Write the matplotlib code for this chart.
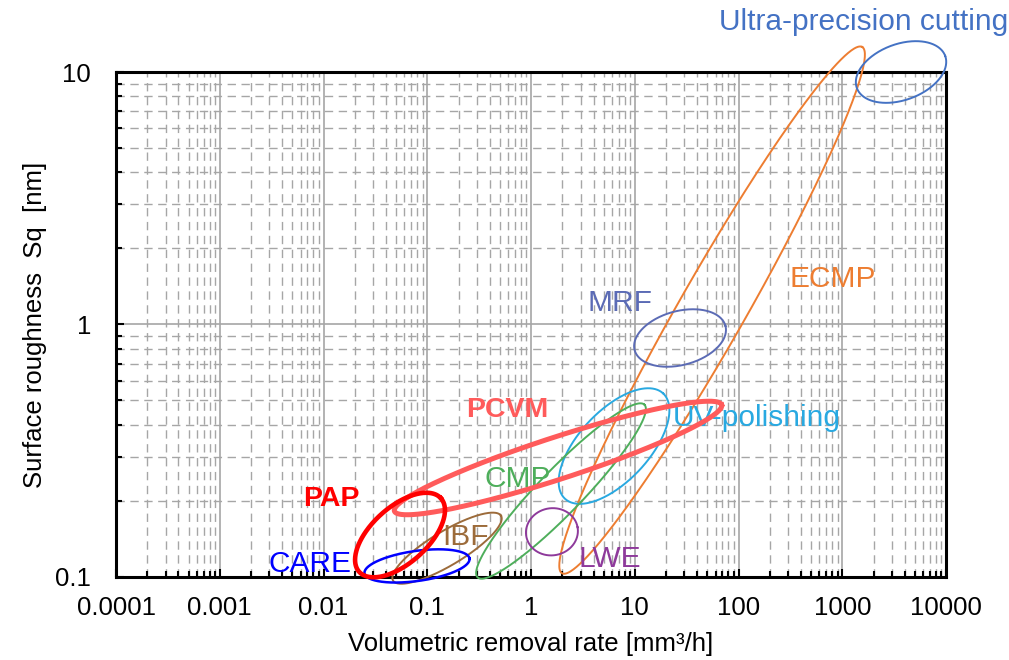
import numpy as np
import matplotlib
matplotlib.use('Agg')
import matplotlib.pyplot as plt

plt.rcParams['font.family'] = ['Liberation Sans', 'DejaVu Sans']

# Process regions: centre (removal rate mm3/h, Sq nm), semi-axes in decades of x, tilt in degrees
processes = ['ECMP', 'Ultra-precision cutting', 'MRF', 'UV-polishing', 'CMP', 'LWE', 'IBF', 'CARE', 'PCVM', 'PAP']
center_x = [55.6, 3683, 27.3, 6.31, 1.945, 1.59, 0.155, 0.0796, 1.82, 0.0546]
center_y = [1.14, 10.0, 0.884, 0.330, 0.219, 0.151, 0.130, 0.1106, 0.296, 0.1466]
semi_a = [2.92, 0.453, 0.453, 0.694, 1.157, 0.251, 0.607, 0.511, 1.658, 0.530]
semi_b = [0.318, 0.27, 0.26, 0.337, 0.212, 0.227, 0.164, 0.145, 0.202, 0.270]
tilt = [60.3, 20, 15, 47, 46, 10, 31, 8, 18, 42]

# label anchor (baseline) positions in data units
label_x = [815, 1622, 7.21, 150.7, 0.75, 5.77, 0.236, 0.00741, 0.588, 0.0118]
label_y = [1.408, 14.7, 1.131, 0.396, 0.227, 0.1095, 0.134, 0.1047, 0.430, 0.191]

colors = ['#ED7D31', '#4472C4', '#5B6BB5', '#29A9E1', '#4EAE5B', '#8E3A9B', '#9C6B3A', '#0000FF', '#FF5B5B', '#FF0000']
widths = [1.4, 1.4, 1.4, 1.4, 1.4, 1.4, 1.4, 1.8, 3.6, 3.3]
bold = [False] * 8 + [True, True]

xticks = [1e-4, 1e-3, 1e-2, 1e-1, 1, 10, 100, 1000, 10000]
xticklabels = ['0.0001', '0.001', '0.01', '0.1', '1', '10', '100', '1000', '10000']
yticks = [0.1, 1, 10]
yticklabels = ['0.1', '1', '10']

fig = plt.figure(figsize=(10.09, 6.60), dpi=100)
ax = fig.add_axes([0.115, 0.1258, 0.8226, 0.7651])
ax.set_xscale('log')
ax.set_yscale('log')
ax.set_xlim(1e-4, 1e4)
ax.set_ylim(0.1, 10)

# ratio of pixels per y-decade to pixels per x-decade
pos = ax.get_position()
k = (pos.height * 660 / 2) / (pos.width * 1009 / 8)

t = np.linspace(0, 2 * np.pi, 400)
for i, name in enumerate(processes):
    th = np.radians(tilt[i])
    du = semi_a[i] * np.cos(t) * np.cos(th) - semi_b[i] * np.sin(t) * np.sin(th)
    dv = semi_a[i] * np.cos(t) * np.sin(th) + semi_b[i] * np.sin(t) * np.cos(th)
    lx = np.log10(center_x[i]) + du
    ly = np.log10(center_y[i]) + dv / k
    ax.plot(10 ** lx, 10 ** ly, color=colors[i], lw=widths[i], clip_on=False, zorder=3 + i * 0.1)
    ax.text(label_x[i], label_y[i], name, color=colors[i],
            fontsize=20.5 if bold[i] else 21.5,
            fontweight='bold' if bold[i] else 'normal',
            ha='center', va='baseline', zorder=3, clip_on=False)

ax.grid(True, which='major', color='#A6A6A6', lw=1.2, ls='-')
ax.grid(True, which='minor', color='#A6A6A6', lw=1.0, ls=(0, (6, 4)))
ax.set_axisbelow(True)

ax.set_xticks(xticks)
ax.set_xticklabels(xticklabels)
ax.set_yticks(yticks)
ax.set_yticklabels(yticklabels)
ax.tick_params(which='both', direction='in', color='black', width=1.5, labelsize=18.5)
ax.tick_params(which='major', length=6)
ax.tick_params(which='minor', length=4)
ax.tick_params(axis='x', which='major', pad=14)
ax.tick_params(axis='y', which='major', pad=18)

for s in ax.spines.values():
    s.set_linewidth(2.2)
    s.set_color('black')

ax.set_xlabel('Volumetric removal rate [mm\u00b3/h]', fontsize=18.5, labelpad=8)
ax.set_ylabel('Surface roughness  Sq  [nm]', fontsize=18.5, labelpad=6)

plt.savefig('out.png', dpi=100)
